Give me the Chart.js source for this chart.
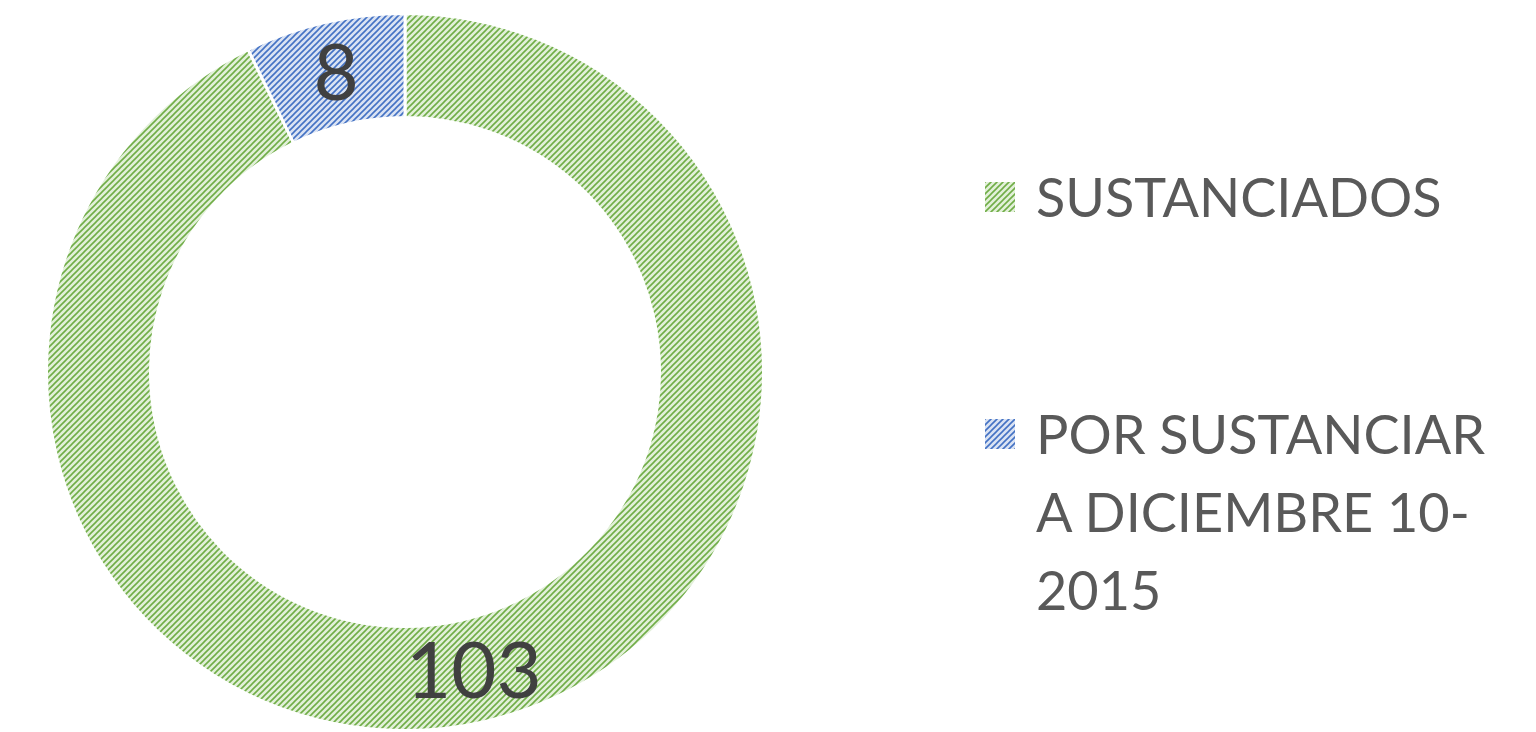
<!DOCTYPE html>
<html>
<head>
<meta charset="utf-8">
<script src="https://cdn.jsdelivr.net/npm/chart.js@4.4.1/dist/chart.umd.min.js"></script>
<style>
  html, body { margin: 0; padding: 0; background: #ffffff; }
  #wrap { position: relative; width: 1536px; height: 732px; overflow: hidden; }
  #c { position: absolute; left: 0; top: 0; }
  .leg { position: absolute; left: 985px; font-family: Lato, "Liberation Sans", sans-serif; color: #595959; font-size: 54px; line-height: 78px; }
  .leg .sw { position: absolute; left: 0; width: 30px; height: 30px; }
  .leg .tx { position: absolute; left: 51px; white-space: nowrap; }
</style>
</head>
<body>
<div id="wrap">
  <canvas id="c" width="1536" height="732"></canvas>
</div>
<script>
const categories = ["SUSTANCIADOS", "POR SUSTANCIAR A DICIEMBRE 10-2015"];
const legendLines = [["SUSTANCIADOS"], ["POR SUSTANCIAR", "A DICIEMBRE 10-", "2015"]];
const values = [103, 8];
const fgColors = ["#70AD47", "#4472C4"];
const bgColors = ["#E2F0D9", "#DAE3F3"];

function makePattern(fg, bg, size) {
  const t = document.createElement('canvas');
  t.width = size; t.height = size;
  const g = t.getContext('2d');
  g.fillStyle = bg; g.fillRect(0, 0, size, size);
  g.strokeStyle = fg; g.lineWidth = 1.6;
  g.beginPath();
  g.moveTo(-2, 2); g.lineTo(2, -2);
  g.moveTo(0, size); g.lineTo(size, 0);
  g.moveTo(size - 2, size + 2); g.lineTo(size + 2, size - 2);
  g.stroke();
  return t;
}

const ctx = document.getElementById('c').getContext('2d');
const patterns = fgColors.map((f, i) => ctx.createPattern(makePattern(f, bgColors[i], 6), 'repeat'));

const labelPlugin = {
  id: 'sliceLabels',
  afterDatasetsDraw(chart) {
    const meta = chart.getDatasetMeta(0);
    const g = chart.ctx;
    g.save();
    g.font = '78px Lato, "Liberation Sans", sans-serif';
    g.fillStyle = '#404040';
    g.textAlign = 'center';
    g.textBaseline = 'middle';
    meta.data.forEach((arc, i) => {
      const p = arc.getProps(['x', 'y', 'startAngle', 'endAngle', 'innerRadius', 'outerRadius'], true);
      const a = (p.startAngle + p.endAngle) / 2;
      const r = (p.innerRadius + p.outerRadius) / 2;
      g.fillText(String(values[i]), p.x + Math.cos(a) * r, p.y + Math.sin(a) * r + 2);
    });
    g.restore();
  }
};

new Chart(ctx, {
  type: 'doughnut',
  data: {
    labels: categories,
    datasets: [{
      data: values,
      backgroundColor: patterns,
      borderColor: '#ffffff',
      borderWidth: 3,
      hoverOffset: 0
    }]
  },
  options: {
    responsive: false,
    animation: false,
    cutout: '71%',
    layout: { padding: { left: 43, right: 769, top: 12, bottom: -4 } },
    plugins: { legend: { display: false }, tooltip: { enabled: false } }
  },
  plugins: [labelPlugin]
});

// HTML legend
const wrap = document.getElementById('wrap');
const legTops = [158, 395];
legendLines.forEach((lines, i) => {
  const d = document.createElement('div');
  d.className = 'leg';
  d.style.top = legTops[i] + 'px';
  const sw = document.createElement('canvas');
  sw.className = 'sw'; sw.width = 30; sw.height = 30;
  sw.style.top = '24px';
  const sg = sw.getContext('2d');
  sg.fillStyle = sg.createPattern(makePattern(fgColors[i], bgColors[i], 6), 'repeat');
  sg.fillRect(0, 0, 30, 30);
  d.appendChild(sw);
  const tx = document.createElement('div');
  tx.className = 'tx';
  tx.innerHTML = lines.map(l => l.replace(/&/g, '&amp;')).join('<br>');
  d.appendChild(tx);
  wrap.appendChild(d);
});
</script>
</body>
</html>
